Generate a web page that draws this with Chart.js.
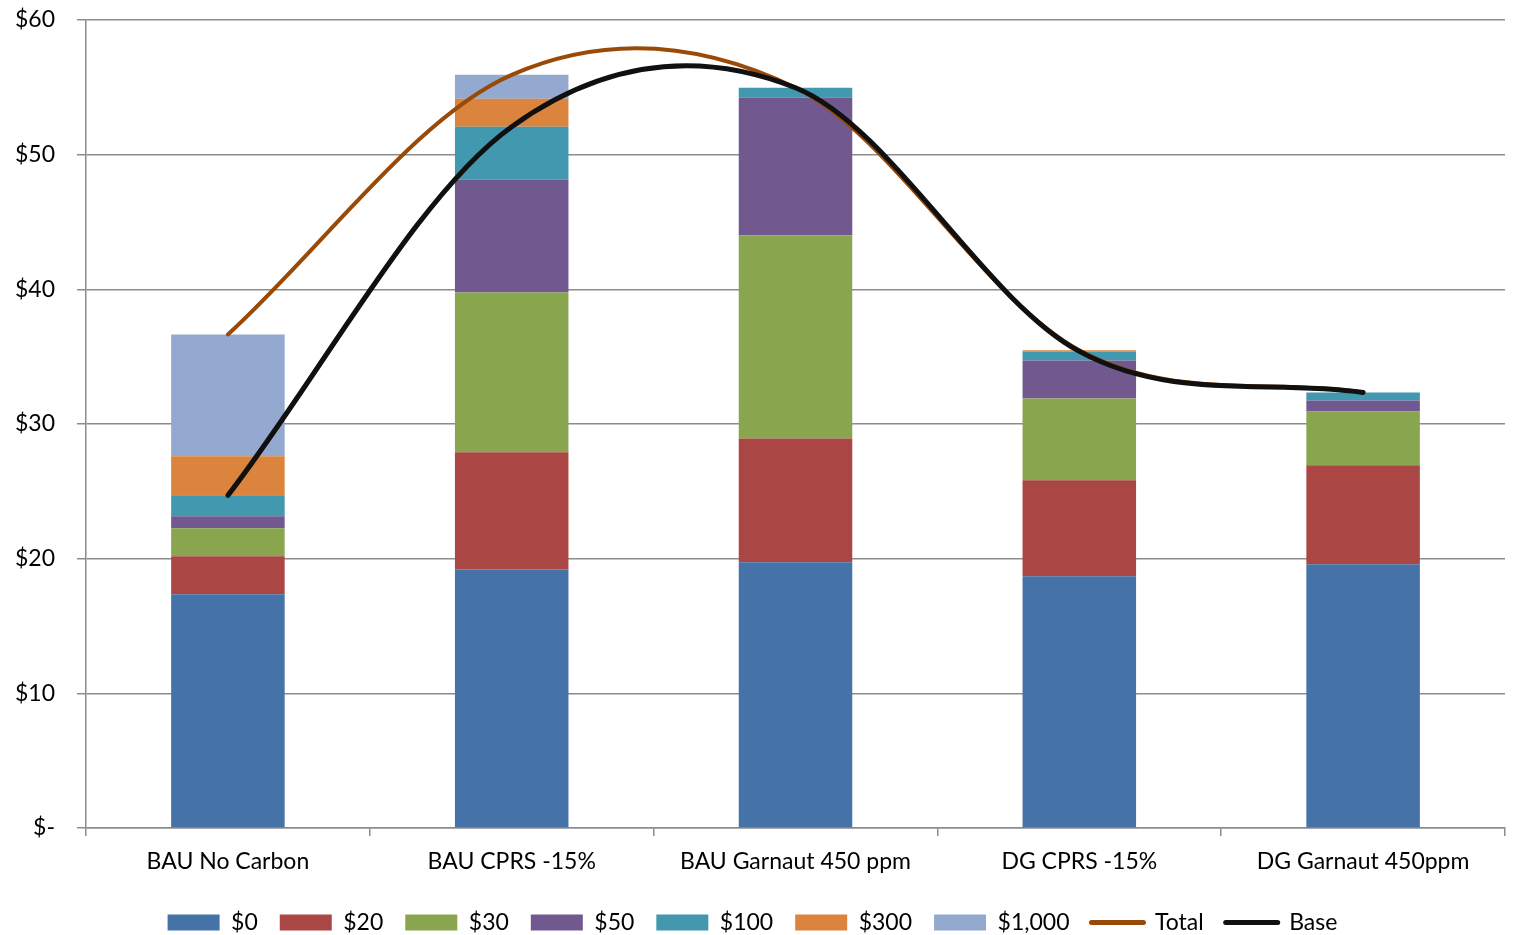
<!DOCTYPE html>
<html>
<head>
<meta charset="utf-8">
<script src="https://cdn.jsdelivr.net/npm/chart.js@4.4.1/dist/chart.umd.min.js"></script>
<style>
  html, body { margin: 0; padding: 0; background: #fff; }
  #wrap { width: 1520px; height: 935px; position: relative; }
</style>
</head>
<body>
<div id="wrap"><canvas id="c"></canvas></div>
<script>
// Scenario categories
const categories = ['BAU No Carbon', 'BAU CPRS -15%', 'BAU Garnaut 450 ppm', 'DG CPRS -15%', 'DG Garnaut 450ppm'];

// Stacked cost components per carbon price band ($)
const band0    = [17.36, 19.20, 19.73, 18.69, 19.58];
const band20   = [2.82, 8.70, 9.20, 7.13, 7.35];
const band30   = [2.07, 11.86, 15.06, 6.08, 4.00];
const band50   = [0.90, 8.39, 10.24, 2.82, 0.82];
const band100  = [1.55, 3.93, 0.74, 0.67, 0.59];
const band300  = [2.90, 2.07, 0.00, 0.08, 0.00];
const band1000 = [9.05, 1.78, 0.00, 0.00, 0.00];

// Line series
const totalLine = [36.65, 55.93, 54.97, 35.47, 32.34];
const baseLine  = [24.70, 52.08, 54.97, 35.39, 32.34];

// Value axis ticks
const yTicks = [0, 10, 20, 30, 40, 50, 60];

const FONT = 'Lato, "Open Sans", sans-serif';
const FONT_SIZE = 23;
const GRID = '#8c8c8c';

const barSeries = [
  { label: '$0',     data: band0,    color: '#4572A7' },
  { label: '$20',    data: band20,   color: '#AA4643' },
  { label: '$30',    data: band30,   color: '#89A54E' },
  { label: '$50',    data: band50,   color: '#71588F' },
  { label: '$100',   data: band100,  color: '#4198AF' },
  { label: '$300',   data: band300,  color: '#DB843D' },
  { label: '$1,000', data: band1000, color: '#93A9CF' }
];

const datasets = [
  {
    type: 'line', label: 'Total', data: totalLine,
    borderColor: '#9A4A08', backgroundColor: '#9A4A08',
    borderWidth: 4, tension: 0.4, pointRadius: 0,
    borderCapStyle: 'round', borderJoinStyle: 'round',
    fill: false, order: 1, stack: 'total'
  },
  {
    type: 'line', label: 'Base', data: baseLine,
    borderColor: '#101010', backgroundColor: '#101010',
    borderWidth: 5, tension: 0.4, pointRadius: 0,
    borderCapStyle: 'round', borderJoinStyle: 'round',
    fill: false, order: 0, stack: 'base'
  }
];
barSeries.forEach((s, i) => {
  datasets.push({
    type: 'bar', label: s.label, data: s.data,
    backgroundColor: s.color, borderWidth: 0,
    stack: 'bars', order: 10 + i,
    categoryPercentage: 1.0, barPercentage: 0.4
  });
});

// Smoothed lines: Catmull-Rom style control points (1/6 of the neighbour span,
// 1/3 towards the neighbour at the end points).
const smoothLines = {
  id: 'smoothLines',
  beforeDatasetsDraw(chart) {
    chart.data.datasets.forEach((ds, di) => {
      if (ds.type !== 'line') return;
      const meta = chart.getDatasetMeta(di);
      const line = meta.dataset;
      if (!line) return;
      line.updateControlPoints(chart.chartArea, 'x');
      const pts = meta.data;
      const n = pts.length;
      for (let i = 0; i < n; i++) {
        const p = pts[i];
        const prev = pts[i - 1];
        const next = pts[i + 1];
        if (prev && next) {
          const dx = (next.x - prev.x) / 6, dy = (next.y - prev.y) / 6;
          p.cp1x = p.x - dx; p.cp1y = p.y - dy;
          p.cp2x = p.x + dx; p.cp2y = p.y + dy;
        } else if (next) {
          p.cp2x = p.x + (next.x - p.x) / 3; p.cp2y = p.y + (next.y - p.y) / 3;
          p.cp1x = p.x; p.cp1y = p.y;
        } else if (prev) {
          p.cp1x = p.x + (prev.x - p.x) / 3; p.cp1y = p.y + (prev.y - p.y) / 3;
          p.cp2x = p.x; p.cp2y = p.y;
        }
      }
    });
  }
};

Chart.defaults.font.family = FONT;
Chart.defaults.color = '#000';

new Chart(document.getElementById('c'), {
  data: { labels: categories, datasets },
  plugins: [smoothLines],
  options: {
    responsive: true,
    maintainAspectRatio: false,
    animation: false,
    layout: { padding: { left: 0, right: 15, top: 20, bottom: -9 } },
    scales: {
      x: {
        stacked: true,
        offset: true,
        grid: {
          offset: true, drawOnChartArea: false, drawTicks: true,
          tickLength: 8, color: GRID, lineWidth: 1.5
        },
        border: { color: GRID, width: 1.5 },
        ticks: { font: { size: FONT_SIZE }, color: '#000', padding: 12, maxRotation: 0 },
        afterFit: (scale) => { scale.height = 61; }
      },
      y: {
        stacked: true,
        min: 0, max: 60,
        afterBuildTicks: (scale) => { scale.ticks = yTicks.map(v => ({ value: v })); },
        grid: { color: GRID, lineWidth: 1.5, drawTicks: true, tickLength: 9 },
        border: { color: GRID, width: 1.5 },
        ticks: {
          font: { size: FONT_SIZE }, color: '#000', padding: 22,
          callback: (v) => v === 0 ? '$-' : '$' + v
        },
        afterFit: (scale) => {
          scale.width = 86;
          scale.paddingTop = 0;
          scale.paddingBottom = 0;
        }
      }
    },
    plugins: {
      tooltip: { enabled: false },
      legend: {
        position: 'bottom',
        labels: {
          font: { size: FONT_SIZE },
          color: '#000',
          usePointStyle: true,
          pointStyleWidth: 52,
          boxHeight: 16,
          padding: 22,
          sort: (a, b) => {
            const order = ['$0', '$20', '$30', '$50', '$100', '$300', '$1,000', 'Total', 'Base'];
            return order.indexOf(a.text) - order.indexOf(b.text);
          },
          generateLabels: (chart) => {
            return chart.data.datasets.map((ds, i) => {
              const isLine = ds.type === 'line';
              return {
                text: ds.label,
                datasetIndex: i,
                fillStyle: ds.backgroundColor,
                strokeStyle: isLine ? ds.borderColor : ds.backgroundColor,
                lineWidth: isLine ? 5 : 0,
                lineCap: 'round',
                pointStyle: isLine ? 'line' : 'rect',
                hidden: false,
                fontColor: '#000'
              };
            });
          }
        }
      }
    }
  }
});
</script>
</body>
</html>
